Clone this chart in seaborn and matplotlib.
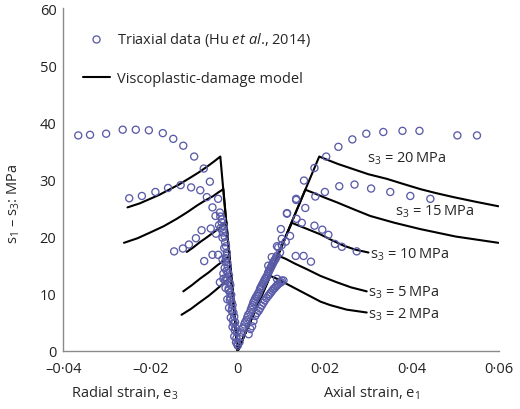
import numpy as np
import pandas as pd
import seaborn as sns
import matplotlib.pyplot as plt

sns.set_style("white")
plt.rcParams['font.family'] = ['Open Sans', 'DejaVu Sans']
plt.rcParams['mathtext.fontset'] = 'custom'
plt.rcParams['mathtext.rm'] = 'Open Sans'
plt.rcParams['mathtext.it'] = 'Open Sans:italic'

# triaxial test data (x = strain, y = deviatoric stress, MPa)
exp20_x = [-0.0366, -0.0339, -0.0302, -0.0264, -0.0234, -0.0204, -0.0172, -0.0148, -0.0125,
           -0.0100, -0.0078, -0.0064, -0.0045, -0.0040, -0.0033,
           0.0099, 0.0113, 0.0134, 0.0152, 0.0176, 0.0203, 0.0231, 0.0263, 0.0295, 0.0334,
           0.0378, 0.0417, 0.0504, 0.0549]
exp20_y = [37.7, 37.8, 38.0, 38.7, 38.7, 38.6, 38.1, 37.1, 35.9,
           34.0, 31.9, 29.6, 26.6, 23.5, 21.3,
           21.3, 24.1, 26.6, 29.8, 32.0, 34.0, 35.7, 37.0, 38.0, 38.3,
           38.5, 38.5, 37.7, 37.7]

exp15_x = [-0.0249, -0.0220, -0.0189, -0.0160, -0.0131, -0.0107, -0.0086, -0.0071, -0.0058,
           -0.0051, -0.0043,
           0.0113, 0.0134, 0.0155, 0.0178, 0.0200, 0.0233, 0.0268, 0.0306, 0.0350, 0.0396, 0.0442]
exp15_y = [26.7, 27.1, 27.8, 28.5, 29.0, 28.6, 28.1, 26.9, 25.1,
           23.6, 22.0,
           24.0, 26.4, 25.0, 27.0, 27.8, 28.8, 29.1, 28.4, 27.8, 27.1, 26.6]

exp10_x = [-0.0146, -0.0126, -0.0112, -0.0096, -0.0083, -0.0062, -0.0050,
           0.0090, 0.0101, 0.0110, 0.0120, 0.0135, 0.0147, 0.0176, 0.0194, 0.0208, 0.0223,
           0.0239, 0.0273]
exp10_y = [17.4, 17.9, 18.6, 19.7, 21.1, 21.4, 20.5,
           18.3, 18.5, 19.1, 20.1, 23.1, 22.4, 21.9, 21.2, 20.3, 18.7,
           18.2, 17.4]

exp5_x = [-0.0077, -0.0058, -0.0045, -0.0035,
          0.0133, 0.0151, 0.0168]
exp5_y = [15.7, 16.8, 16.8, 16.0,
          16.6, 16.6, 15.6]

exp2_x = [-0.0041, -0.0033, -0.0029,
          0.0078, 0.0090, 0.0101]
exp2_y = [12.0, 12.6, 12.3,
          16.4, 12.6, 12.3]

# dense pre-peak points near the origin (radial side, then axial side)
near_rad_x = [-0.0041, -0.0037, -0.0033, -0.0029, -0.0025, -0.0024, -0.0022, -0.0019, -0.0018,
              -0.0014, -0.0010, -0.0006, -0.0002, 0.0000,
              -0.0039, -0.0035, -0.0031, -0.0030, -0.0027, -0.0028, -0.0024, -0.0020, -0.0016,
              -0.0012, -0.0008, -0.0004, -0.0033, -0.0026, -0.0021, -0.0017, -0.0013, -0.0009,
              -0.0036, -0.0032, -0.0030, -0.0027, -0.0026, -0.0023, -0.0020, -0.0017, -0.0015,
              -0.0012, -0.0008, -0.0005, -0.0003, -0.0001, -0.0029, -0.0026, -0.0024, -0.0021,
              -0.0018, -0.0014, -0.0011, -0.0007]
near_rad_y = [24.2, 22.5, 20.7, 19.0, 17.2, 15.5, 13.7, 12.0, 10.2,
              8.5, 6.7, 5.0, 3.2, 0.9,
              21.5, 19.8, 18.0, 14.5, 16.2, 11.0, 9.0, 7.5, 5.8,
              4.2, 2.5, 1.5, 13.5, 12.8, 10.9, 9.3, 7.4, 4.8,
              23.0, 21.8, 20.0, 18.3, 16.6, 14.8, 13.2, 11.5, 9.8,
              8.0, 6.0, 4.0, 2.2, 1.2, 15.6, 14.0, 12.4, 10.6,
              8.9, 7.0, 5.3, 3.6]
near_ax_x = [0.0004, 0.0009, 0.0013, 0.0017, 0.0022, 0.0028, 0.0032, 0.0036, 0.0040, 0.0044,
             0.0048, 0.0051, 0.0055, 0.0059, 0.0063, 0.0067, 0.0070, 0.0074, 0.0078, 0.0082,
             0.0086, 0.0090, 0.0093, 0.0097, 0.0101,
             0.0025, 0.0033, 0.0040, 0.0048, 0.0055, 0.0062, 0.0070, 0.0076, 0.0082, 0.0088,
             0.0093, 0.0099, 0.0105, 0.0070,
             0.0006, 0.0011, 0.0015, 0.0020, 0.0024, 0.0030, 0.0034, 0.0038, 0.0042, 0.0046,
             0.0053, 0.0057, 0.0061, 0.0065, 0.0069, 0.0072, 0.0076, 0.0080, 0.0084, 0.0088,
             0.0029, 0.0036, 0.0044, 0.0051, 0.0059, 0.0066, 0.0073, 0.0079, 0.0085, 0.0091,
             0.0097]
near_ax_y = [1.5, 3.2, 4.1, 5.0, 5.9, 6.7, 7.6, 8.5, 9.1, 9.6,
             10.2, 10.8, 11.4, 12.0, 12.6, 13.1, 13.7, 14.3, 14.9, 15.5,
             16.0, 16.6, 18.1, 17.2, 19.6,
             2.9, 4.3, 6.1, 7.0, 7.9, 8.8, 9.6, 10.2, 10.8, 11.3,
             11.7, 12.0, 12.3, 14.9,
             2.4, 3.9, 4.6, 5.4, 6.3, 7.2, 8.0, 8.8, 9.4, 9.9,
             11.1, 11.7, 12.3, 12.8, 13.4, 14.0, 14.6, 15.2, 15.8, 16.3,
             3.8, 5.2, 6.6, 7.4, 8.4, 9.2, 9.9, 10.5, 11.0, 11.5,
             11.9]

# viscoplastic-damage model curves (radial branch, axial branch) per confining stress
s3_levels = [20, 15, 10, 5, 2]
model_rad_x = {
    20: [0.0, -0.0040, -0.0055, -0.0071, -0.0090, -0.0109, -0.0135, -0.0160, -0.0180, -0.0201,
         -0.0225, -0.0253],
    15: [0.0, -0.0033, -0.0045, -0.0056, -0.0075, -0.0094, -0.0115, -0.0140, -0.0170, -0.0201,
         -0.0230, -0.0261],
    10: [0.0, -0.0026, -0.0040, -0.0056, -0.0072, -0.0087, -0.0102, -0.0117],
    5: [0.0, -0.0019, -0.0032, -0.0048, -0.0067, -0.0087, -0.0105, -0.0125],
    2: [0.0, -0.0015, -0.0030, -0.0048, -0.0067, -0.0087, -0.0108, -0.0129],
}
model_rad_y = {
    20: [0.0, 34.0, 33.1, 32.2, 31.2, 30.3, 29.1, 28.1, 27.3, 26.6, 25.8, 25.1],
    15: [0.0, 28.3, 27.7, 27.1, 26.3, 25.4, 24.3, 23.1, 21.8, 20.7, 19.7, 18.9],
    10: [0.0, 22.5, 21.6, 20.7, 19.8, 19.0, 18.1, 17.3],
    5: [0.0, 16.6, 15.8, 14.9, 13.7, 12.6, 11.5, 10.4],
    2: [0.0, 13.1, 12.0, 10.8, 9.6, 8.5, 7.3, 6.3],
}
model_ax_x = {
    20: [0.0, 0.0187, 0.0200, 0.0230, 0.0265, 0.0300, 0.0342, 0.0380, 0.0419, 0.0455, 0.0495,
         0.0545, 0.0598],
    15: [0.0, 0.0155, 0.0175, 0.0200, 0.0227, 0.0265, 0.0304, 0.0360, 0.0419, 0.0500, 0.0598],
    10: [0.0, 0.0124, 0.0140, 0.0160, 0.0189, 0.0215, 0.0243, 0.0270, 0.0300],
    5: [0.0, 0.0094, 0.0110, 0.0130, 0.0158, 0.0190, 0.0227, 0.0260, 0.0296],
    2: [0.0, 0.0075, 0.0090, 0.0110, 0.0135, 0.0170, 0.0190, 0.0212, 0.0250, 0.0296],
}
model_ax_y = {
    20: [0.0, 34.0, 33.6, 32.7, 31.8, 30.9, 30.1, 29.2, 28.3, 27.6, 26.9, 26.1, 25.3],
    15: [0.0, 28.2, 27.6, 26.8, 26.0, 24.8, 23.6, 22.4, 21.3, 20.0, 18.9],
    10: [0.0, 22.4, 21.9, 21.3, 20.4, 19.4, 18.4, 17.7, 17.2],
    5: [0.0, 16.6, 16.1, 15.3, 14.3, 13.1, 12.0, 11.1, 10.4],
    2: [0.0, 13.1, 12.6, 11.8, 10.8, 9.4, 8.6, 8.0, 7.2, 6.7],
}

label_x = [0.0296, 0.0362, 0.0304, 0.0299, 0.0299]
label_y = [33.7, 24.5, 16.9, 10.3, 6.4]

x_ticks = [-0.04, -0.02, 0, 0.02, 0.04, 0.06]
x_tick_labels = ['\u20130\u00b704', '\u20130\u00b702', '0', '0\u00b702', '0\u00b704', '0\u00b706']
y_ticks = [0, 10, 20, 30, 40, 50, 60]

exp = pd.DataFrame({
    'strain': exp20_x + exp15_x + exp10_x + exp5_x + exp2_x + near_rad_x + near_ax_x,
    'stress': exp20_y + exp15_y + exp10_y + exp5_y + exp2_y + near_rad_y + near_ax_y,
})

rows = []
for s in s3_levels:
    for xv, yv in zip(model_rad_x[s], model_rad_y[s]):
        rows.append((f'r{s}', xv, yv))
    for xv, yv in zip(model_ax_x[s], model_ax_y[s]):
        rows.append((f'a{s}', xv, yv))
model = pd.DataFrame(rows, columns=['curve', 'strain', 'stress'])

fig = plt.figure(figsize=(5.2, 4.1), dpi=100)
ax = fig.add_axes([0.122, 0.142, 0.838, 0.836])

pt_col = '#5b5ca8'
for i, (name, g) in enumerate(model.groupby('curve', sort=False)):
    sns.lineplot(data=g, x='strain', y='stress', sort=False, estimator=None,
                 color='black', lw=1.5, ax=ax,
                 label='Viscoplastic-damage model' if i == 0 else None, zorder=2)
sns.scatterplot(data=exp, x='strain', y='stress', ax=ax, s=26, marker='o',
                facecolor='none', edgecolor=pt_col, linewidth=0.95, zorder=3,
                label='Triaxial data (Hu $\\mathit{et\\ al}$., 2014)')

for s, lx, ly in zip(s3_levels, label_x, label_y):
    ax.text(lx, ly, f's$_3$ = {s}\u2009MPa', fontsize=10.5, va='center', ha='left',
            family=['Open Sans', 'DejaVu Sans'])

ax.set_xlim(-0.04, 0.06)
ax.set_ylim(0, 60)
ax.set_xticks(x_ticks)
ax.set_xticklabels(x_tick_labels)
ax.set_yticks(y_ticks)
ax.tick_params(axis='both', direction='in', length=4, width=0.8, color='#8a8a8a',
               labelsize=10.5, labelcolor='#222222')
ax.tick_params(axis='x', pad=7)
ax.tick_params(axis='y', pad=5)
sns.despine(ax=ax)
for sp in ['left', 'bottom']:
    ax.spines[sp].set_color('#8a8a8a')
    ax.spines[sp].set_linewidth(1.0)

ax.set_xlabel('')
ax.set_ylabel('s$_1$ \u2013 s$_3$: MPa', fontsize=10.5)
ax.yaxis.set_label_coords(-0.095, 0.43)
ax.text(0.14, -0.12, 'Radial strain, e$_3$', transform=ax.transAxes, ha='center',
        va='center', fontsize=10.5)
ax.text(0.706, -0.12, 'Axial strain, e$_1$', transform=ax.transAxes, ha='center',
        va='center', fontsize=10.5)

h, l = ax.get_legend_handles_labels()
ax.legend(h[::-1], l[::-1], loc='upper left', bbox_to_anchor=(0.045, 0.935), frameon=False,
          borderpad=0, borderaxespad=0, handlelength=1.85, handletextpad=0.5,
          labelspacing=1.55, fontsize=10.5)

fig.savefig('out.png', dpi=100)
